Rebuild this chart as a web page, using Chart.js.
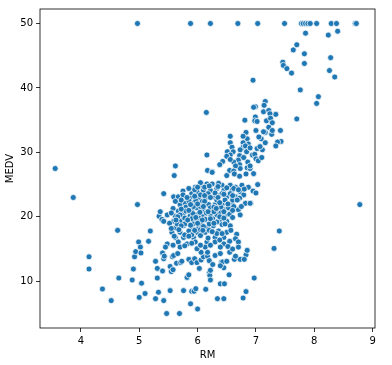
<!DOCTYPE html>
<html>
<head>
<meta charset="utf-8">
<script src="https://cdn.jsdelivr.net/npm/chart.js@4"></script>
<style>
  html, body { margin: 0; padding: 0; background: #fff; }
</style>
</head>
<body>
<canvas id="chart" width="392" height="365"></canvas>
<script>
// RM vs MEDV points
const capped = [
  [4.97,50],[5.88,50],[6.22,50],[6.69,50],[7.03,50],[7.49,50],[7.78,50],[7.81,50],
  [7.85,50],[7.89,50],[7.93,50],[8.04,50],[8.29,50],[8.38,50],[8.70,50],[8.72,50]
];

const upper = [
  [8.40,48.8],[7.85,48.5],[8.24,48.2],[7.70,46.7],[7.64,45.9],[7.83,45.3],[8.28,44.7],[7.83,43.8],
  [7.46,44.0],[7.47,43.5],[7.53,43.0],[7.61,42.3],[8.26,42.7],[8.35,41.7],[6.95,41.2],[7.76,39.7],
  [8.07,38.65],[8.04,37.6],[7.16,37.9],[6.99,37.1],[6.96,37.0],[7.14,37.3],[6.15,36.2],[7.13,36.3],
  [7.22,36.5],[7.34,35.9],[7.24,36.0],[7.18,34.9],[6.81,35.0],[7.70,35.2],[6.99,35.5],[6.98,34.9],
  [7.02,34.8],[7.25,35.3],[7.28,34.6]
];

const middle = [
  [7.22,33.9],[7.00,33.4],[6.83,33.1],[7.42,33.4],[7.16,33.1],[7.13,33.2],[7.27,32.8],[7.28,33.4],
  [7.09,32.1],[7.16,31.5],[7.05,32.4],[6.85,32.1],[6.78,32.5],[6.56,32.5],[6.56,31.5],[6.87,31.3],
  [6.78,31.5],[7.43,31.7],[7.37,31.6],[7.34,31.0],[6.59,30.8],[6.78,30.8],[6.82,31.0],[7.02,30.6],
  [6.84,30.1],[7.11,30.4],[6.61,30.1],[6.51,30.1],[6.94,29.6],[6.98,29.7],[6.16,29.6],[6.56,29.6],
  [6.72,29.5],[7.00,29.0],[7.04,28.7],[6.70,28.8],[6.62,28.5],[6.43,28.6],[6.38,28.1],[6.72,28.1],
  [6.86,28.5],[6.85,27.6],[6.73,27.5],[6.90,27.5],[5.62,27.9],[6.17,27.2],[6.25,27.0],[6.55,27.2],
  [6.96,26.7],[7.03,25.0],[6.95,24.0],[7.00,23.7],[6.91,22.1],[6.90,30.7],[7.07,30.9],[6.73,30.4],
  [7.10,29.2],[6.50,29.4],[6.56,28.9],[6.79,29.2],[6.90,27.9],[6.65,27.9],[6.62,27.1]
];

const outliers = [
  [3.56,27.5],[3.87,23.0],[4.97,21.9],[4.63,17.9],[4.14,13.8],[4.14,11.9],[4.37,8.8],[4.52,7.0],
  [4.65,10.5],[4.88,10.2],[4.90,11.9],[4.92,13.8],[4.94,14.6],[4.99,16.1],[5.02,15.3],[5.03,14.4],
  [5.04,9.7],[5.00,7.5],[5.10,8.1],[5.16,16.2],[5.19,17.8],[8.78,21.9],[7.40,17.8],[7.31,15.1],
  [6.97,10.5],[5.34,20.1],[5.36,20.8]
];

const lower = [
  [5.28,7.3],[5.28,13.1],[5.31,12.0],[5.31,10.5],[5.33,8.3],[5.42,7.0],[5.47,5.0],[5.40,11.6],
  [5.42,13.5],[5.40,14.4],[5.43,13.9],[5.53,12.3],[5.55,11.5],[5.58,11.8],[5.53,8.55],[5.57,13.8],
  [5.59,14.0],[5.64,12.8],[5.66,14.3],[5.71,12.9],[5.73,13.1],[5.69,5.0],[5.76,8.55],[5.82,10.6],
  [5.85,11.0],[5.85,13.4],[5.88,6.5],[5.90,8.45],[5.94,8.45],[5.97,8.85],[6.00,5.7],[5.90,12.9],
  [5.95,13.5],[5.99,12.9],[6.03,12.0],[6.06,13.3],[6.10,13.8],[6.14,8.75],[6.17,13.9],[6.20,13.2],
  [6.20,11.3],[6.21,10.9],[6.22,10.2],[6.22,11.7],[6.26,12.6],[6.34,7.3],[6.45,7.3],[6.39,9.6],
  [6.46,9.6],[6.45,12.1],[6.41,13.0],[6.43,13.0],[6.39,12.4],[6.54,11.0],[6.50,13.1],[6.63,13.4],
  [6.73,13.4],[6.65,13.9],[6.83,14.1],[6.80,13.4],[6.78,7.4],[6.83,8.4],[6.17,14.5],[6.06,14.5],
  [6.30,14.0],[6.39,14.3],[6.55,14.5],[6.85,14.8]
];

// the dense cloud around 6 rooms / 20k
const core = [
  [5.60,26.4],[6.25,26.9],[6.50,26.4],[6.63,26.65],[6.72,26.3],[6.83,26.65],
  [5.96,24.6],[6.07,24.9],[6.16,25.1],[6.25,25.1],[6.42,24.9],[6.56,24.9],[6.65,24.6],[6.76,24.9],[6.87,24.6],
  [5.42,23.6],[5.59,23.1],[5.67,23.1],[5.90,23.6],[5.99,23.9],[6.10,24.1],[6.22,24.1],[6.33,24.4],[6.45,24.1],[6.59,24.1],[6.73,23.9],
  [5.87,22.9],[6.02,22.9],[6.13,22.9],[6.27,23.1],[6.39,23.4],[6.50,23.1],[6.65,23.1],[6.79,23.4],
  [5.70,21.9],[5.79,22.1],[5.93,22.1],[6.05,22.1],[6.19,21.9],[6.30,21.9],[6.42,21.9],[6.59,22.1],[6.82,22.1],[6.90,22.1],
  [5.67,20.9],[5.76,20.6],[5.90,21.1],[5.99,21.4],[6.10,21.1],[6.22,21.4],[6.36,21.1],[6.47,21.1],[6.70,21.1],
  [5.48,20.3],[5.62,20.1],[5.73,19.8],[5.87,20.1],[5.99,20.3],[6.10,20.1],[6.22,20.3],[6.33,20.3],[6.47,20.1],[6.73,20.3],
  [5.39,19.6],[5.42,19.3],[5.59,19.3],[5.70,19.3],[5.85,19.3],[5.96,19.3],[6.07,19.1],[6.19,19.3],[6.39,19.6],[6.50,19.3],
  [5.62,18.3],[5.76,18.6],[5.90,18.3],[6.02,18.3],[6.16,18.3],[6.27,18.6],[6.42,18.8],[6.56,18.6],
  [5.56,17.6],[5.70,17.6],[5.85,17.8],[5.99,17.6],[6.13,17.6],[6.36,17.8],[6.50,17.6],[6.67,17.3],
  [5.62,16.8],[5.76,16.8],[5.93,16.8],[6.05,17.1],[6.30,16.8],[6.45,16.8],[6.65,16.6],
  [5.48,15.8],[5.67,16.1],[5.82,15.8],[5.96,16.1],[6.16,16.1],[6.30,16.1],[6.45,15.8],[6.70,16.1],
  [5.45,15.3],[5.70,15.3],[5.99,15.05],[6.13,15.3],[6.39,15.3],[6.70,15.3],
  [5.95,24.2],[6.05,23.4],[6.18,23.6],[6.30,23.7],[6.42,23.6],[6.56,23.6],[5.85,22.5],[5.97,22.5],
  [6.08,22.4],[6.33,22.6],[6.47,22.6],[6.60,22.6],[5.80,21.5],[5.93,21.6],[6.05,21.6],[6.28,21.5],
  [6.40,21.5],[6.53,21.4],[5.70,20.3],[5.80,20.9],[5.92,20.5],[6.04,20.7],[6.15,20.6],[6.28,20.8],
  [6.40,20.6],[6.55,20.4],[5.78,19.8],[5.90,19.7],[6.02,19.8],[6.13,19.6],[6.26,19.7],[6.33,19.2],
  [5.65,18.9],[5.78,18.9],[5.92,18.9],[6.06,18.8],[6.20,18.9],[5.90,17.2],[6.05,18.0],[6.20,17.9],
  [6.33,17.4],[5.78,17.2],[6.60,19.9],[6.62,21.6],[6.72,22.9],[6.80,24.3],[6.36,25.2],[6.05,25.3],
  [5.75,24.0],[5.85,24.4],[6.00,24.6],[6.12,24.6],[6.20,24.8],[6.35,24.7],[6.50,24.5],[6.62,24.4],
  [6.70,24.2],[5.75,23.4],[5.82,23.0],[5.95,23.2],[6.12,23.3],[6.22,23.0],[6.35,23.0],[6.45,23.5],
  [6.60,23.3],[6.68,22.6],[5.62,22.4],[5.72,22.6],[5.88,21.9],[6.00,22.0],[6.12,22.4],[6.38,22.2],
  [6.52,22.0],[6.75,21.6],[5.58,21.3],[5.72,21.2],[5.85,21.0],[6.10,21.6],[6.18,20.8],[6.32,21.3],
  [6.45,20.8],[6.60,21.0],[5.55,20.6],[5.66,20.0],[5.83,19.5],[5.97,19.9],[6.08,19.5],[6.22,19.7],
  [6.38,20.0],[6.45,19.8],[5.52,19.0],[5.63,19.5],[5.72,18.6],[5.88,18.7],[6.00,19.0],[6.10,18.5],
  [6.28,19.0],[6.47,18.9],[5.55,18.2],[5.68,18.0],[5.95,17.9],[6.09,17.9],[6.25,17.7],[6.42,17.4],
  [6.57,17.9],[5.60,17.0],[5.85,17.0],[6.18,16.7],[6.38,16.4],[6.55,16.2],[5.58,15.6],[5.78,15.5],
  [5.90,15.9],[6.05,15.6],[6.22,15.6],[6.52,15.4],[6.60,15.0]
];

const xTicks = [4, 5, 6, 7, 8, 9];
const yTicks = [10, 20, 30, 40, 50];

const points = [].concat(capped, upper, middle, outliers, lower, core)
  .map(p => ({ x: p[0], y: p[1] }));

const font = { family: "'DejaVu Sans', sans-serif", size: 10 };

// matplotlib-style box round the plot area
const frame = {
  id: "frame",
  afterDatasetsDraw(chart) {
    const { ctx, chartArea: a } = chart;
    ctx.save();
    ctx.strokeStyle = "#000";
    ctx.lineWidth = 0.8;
    ctx.strokeRect(a.left, a.top, a.right - a.left, a.bottom - a.top);
    ctx.restore();
  }
};

new Chart(document.getElementById("chart"), {
  type: "scatter",
  data: {
    datasets: [{
      data: points,
      backgroundColor: "#1f77b4",
      borderColor: "#ffffff",
      borderWidth: 0.75,
      pointRadius: 3,
      pointHoverRadius: 3
    }]
  },
  options: {
    responsive: false,
    animation: false,
    devicePixelRatio: 1,
    layout: { padding: { top: 3, right: 17, left: 0, bottom: 0 } },
    plugins: { legend: { display: false }, tooltip: { enabled: false } },
    scales: {
      x: {
        type: "linear",
        min: 3.30,
        max: 9.04,
        border: { display: false },
        grid: { drawOnChartArea: false, tickLength: 4, color: "#000", lineWidth: 0.8 },
        ticks: { color: "#000", font: font, padding: 3, maxRotation: 0 },
        title: { display: true, text: "RM", color: "#000", font: font, padding: { top: 0, bottom: 4 } },
        afterBuildTicks: s => { s.ticks = xTicks.map(v => ({ value: v })); },
        afterFit: s => { s.height = 37; }
      },
      y: {
        type: "linear",
        min: 2.75,
        max: 52.25,
        border: { display: false },
        grid: { drawOnChartArea: false, tickLength: 4, color: "#000", lineWidth: 0.8 },
        ticks: { color: "#000", font: font, padding: 3 },
        title: { display: true, text: "MEDV", color: "#000", font: font, padding: { top: 4, bottom: 0 } },
        afterBuildTicks: s => { s.ticks = yTicks.map(v => ({ value: v })); },
        afterFit: s => { s.width = 40; }
      }
    }
  },
  plugins: [frame]
});
</script>
</body>
</html>
